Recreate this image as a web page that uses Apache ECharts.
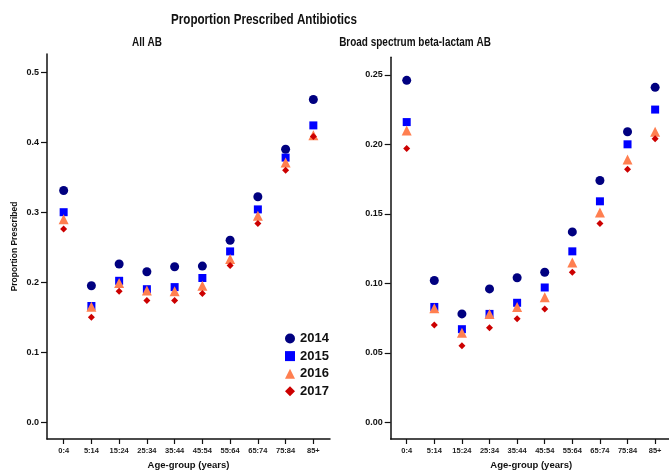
<!DOCTYPE html>
<html>
<head>
<meta charset="utf-8">
<script src="https://cdn.jsdelivr.net/npm/echarts@6/dist/echarts.min.js"></script>
<style>
  html, body { margin: 0; padding: 0; background: #fff; }
  #chart { width: 669px; height: 471px; }
</style>
</head>
<body>
<div id="chart"></div>
<script>
var ageGroups = ['0:4', '5:14', '15:24', '25:34', '35:44', '45:54', '55:64', '65:74', '75:84', '85+']
var years = ['2014', '2015', '2016', '2017']

// All AB
var allAB2014 = [0.331, 0.195, 0.226, 0.215, 0.222, 0.223, 0.260, 0.322, 0.390, 0.461]
var allAB2015 = [0.300, 0.166, 0.202, 0.190, 0.193, 0.206, 0.244, 0.304, 0.378, 0.424]
var allAB2016 = [0.290, 0.165, 0.199, 0.188, 0.187, 0.195, 0.233, 0.295, 0.371, 0.410]
var allAB2017 = [0.276, 0.150, 0.187, 0.174, 0.174, 0.184, 0.224, 0.284, 0.360, 0.408]

// Broad spectrum beta-lactam AB
var broad2014 = [0.246, 0.102, 0.078, 0.096, 0.104, 0.108, 0.137, 0.174, 0.209, 0.241]
var broad2015 = [0.216, 0.083, 0.067, 0.078, 0.086, 0.097, 0.123, 0.159, 0.200, 0.225]
var broad2016 = [0.210, 0.082, 0.0645, 0.078, 0.083, 0.090, 0.115, 0.151, 0.189, 0.209]
var broad2017 = [0.197, 0.070, 0.055, 0.068, 0.0745, 0.0815, 0.108, 0.143, 0.182, 0.204]

var leftTicks = [0, 0.1, 0.2, 0.3, 0.4, 0.5]
var rightTicks = [0, 0.05, 0.1, 0.15, 0.2, 0.25]

var FONT = '"Liberation Sans", Arial, sans-serif'
var colors = ['#000080', '#0000FF', '#FF7F50', '#CC0000']
var symbols = ['circle', 'rect', 'triangle', 'diamond']
var sizes = [9, 8, 10, 7]

function toPoints(arr) {
  return arr.map(function (v, i) { return [i, v] })
}

var xIdx = ageGroups.map(function (a, i) { return i })

function makeX(gridIndex, min) {
  return {
    type: 'value',
    gridIndex: gridIndex,
    min: min,
    max: 9.6,
    name: 'Age-group (years)',
    nameLocation: 'middle',
    nameGap: 21,
    nameTextStyle: { fontFamily: FONT, fontWeight: 'bold', fontSize: 9.5, color: '#111' },
    splitLine: { show: false },
    axisLine: { onZero: false, lineStyle: { color: '#111', width: 1.5 } },
    axisTick: { customValues: xIdx, length: 5, lineStyle: { color: '#111', width: 1.2 } },
    axisLabel: {
      customValues: xIdx,
      margin: 8,
      fontFamily: FONT,
      fontWeight: 'bold',
      fontSize: 7.5,
      color: '#222',
      formatter: function (v) { return ageGroups[Math.round(v)] }
    }
  }
}

function makeY(gridIndex, min, max, ticks, digits, name) {
  return {
    type: 'value',
    gridIndex: gridIndex,
    min: min,
    max: max,
    name: name,
    nameLocation: 'middle',
    nameGap: 28,
    nameRotate: 90,
    nameTextStyle: { fontFamily: FONT, fontWeight: 'bold', fontSize: 8.5, color: '#111' },
    splitLine: { show: false },
    axisLine: { show: true, onZero: false, lineStyle: { color: '#111', width: 1.5 } },
    axisTick: { customValues: ticks, length: 6, lineStyle: { color: '#111', width: 1.2 } },
    axisLabel: {
      customValues: ticks,
      margin: 8,
      fontFamily: FONT,
      fontWeight: 'bold',
      fontSize: 9,
      color: '#111',
      formatter: function (v) { return v.toFixed(digits) }
    }
  }
}

var leftData = [allAB2014, allAB2015, allAB2016, allAB2017]
var rightData = [broad2014, broad2015, broad2016, broad2017]
var series = []
years.forEach(function (y, k) {
  series.push({
    name: y, type: 'scatter', xAxisIndex: 0, yAxisIndex: 0,
    symbol: symbols[k], symbolSize: sizes[k],
    itemStyle: { color: colors[k], opacity: 1 },
    data: toPoints(leftData[k])
  })
  series.push({
    name: y, type: 'scatter', xAxisIndex: 1, yAxisIndex: 1,
    symbol: symbols[k], symbolSize: sizes[k],
    itemStyle: { color: colors[k], opacity: 1 },
    data: toPoints(rightData[k])
  })
})

function label(text, x, y, size) {
  return {
    type: 'text', x: x, y: y, scaleX: 0.83,
    style: { text: text, align: 'center', verticalAlign: 'middle', textAlign: 'center', textVerticalAlign: 'middle', font: 'bold ' + size + 'px ' + FONT, fill: '#111' }
  }
}

var chart = echarts.init(document.getElementById('chart'))
chart.setOption({
  backgroundColor: '#fff',
  animation: false,
  graphic: [
    label('Proportion Prescribed Antibiotics', 264, 20, 14),
    label('All AB', 147, 43, 12),
    label('Broad spectrum beta-lactam AB', 415, 43, 12)
  ],
  legend: {
    orient: 'vertical',
    left: 285,
    top: 331,
    itemWidth: 10,
    itemHeight: 10,
    itemGap: 2.6,
    padding: 0,
    data: years,
    textStyle: { fontFamily: FONT, fontWeight: 'bold', fontSize: 13, lineHeight: 15, color: '#111' }
  },
  grid: [
    { left: 47, top: 54, width: 283, height: 385, outerBoundsMode: 'none' },
    { left: 390.7, top: 57.3, width: 281, height: 381.7, outerBoundsMode: 'none' }
  ],
  xAxis: [makeX(0, -0.6), makeX(1, -0.58)],
  yAxis: [
    makeY(0, -0.024, 0.526, leftTicks, 1, 'Proportion Prescribed'),
    makeY(1, -0.012, 0.2626, rightTicks, 2, '')
  ],
  series: series
})
</script>
</body>
</html>
